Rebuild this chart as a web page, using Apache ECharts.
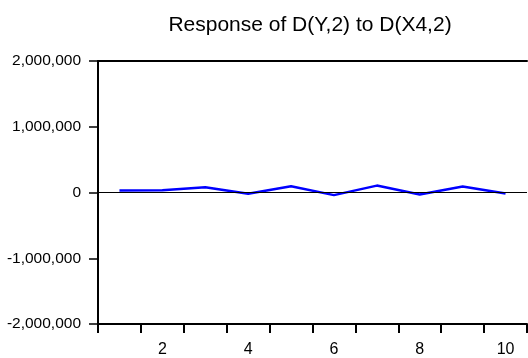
<!DOCTYPE html>
<html>
<head>
<meta charset="utf-8">
<script src="https://cdn.jsdelivr.net/npm/echarts@6/dist/echarts.min.js"></script>
<style>
  html, body { margin: 0; padding: 0; background: #fff; }
  #chart { width: 528px; height: 358px; }
</style>
</head>
<body>
<div id="chart"></div>
<script>
// impulse response, periods 1..10
var periods = ['1', '2', '3', '4', '5', '6', '7', '8', '9', '10'];
var response = [30000, 35000, 80000, -20000, 95000, -40000, 105000, -30000, 90000, -15000];
var yTicks = [-2000000, 2000000, 1000000]; // min, max, step

var chart = echarts.init(document.getElementById('chart'));
var font = 'Liberation Sans, Arial, sans-serif';

chart.setOption({
  animation: false,
  backgroundColor: '#fff',
  title: {
    text: 'Response of D(Y,2) to D(X4,2)',
    left: 305,
    top: 10,
    textAlign: 'center',
    textStyle: { fontFamily: font, fontSize: 21, fontWeight: 'normal', color: '#000' }
  },
  grid: { left: 98, right: 1, top: 61, bottom: 33 },
  xAxis: [{
    type: 'category',
    data: periods,
    boundaryGap: true,
    position: 'bottom',
    axisLine: { onZero: false, lineStyle: { color: '#000', width: 2 } },
    axisTick: { show: true, interval: 0, length: 9, inside: false, lineStyle: { color: '#000', width: 2 } },
    axisLabel: {
      interval: function (i) { return i % 2 === 1; },
      color: '#000', fontFamily: font, fontSize: 16, margin: 18
    },
    splitLine: { show: false }
  }, {
    type: 'category',
    data: periods,
    position: 'top',
    axisLine: { onZero: false, lineStyle: { color: '#000', width: 2 } },
    axisTick: { show: false },
    axisLabel: { show: false }
  }],
  yAxis: {
    type: 'value',
    min: yTicks[0],
    max: yTicks[1],
    interval: yTicks[2],
    axisLine: { show: true, onZero: false, lineStyle: { color: '#000', width: 2 } },
    axisTick: { show: true, length: 9, lineStyle: { color: '#000', width: 1.5 } },
    axisLabel: {
      color: '#000', fontFamily: font, fontSize: 15.5, margin: 17,
      formatter: function (v) { return v.toLocaleString('en-US'); }
    },
    splitLine: { show: false }
  },
  series: [{
    type: 'line',
    data: response,
    symbol: 'none',
    lineStyle: { color: '#0000ff', width: 2.5 },
    markLine: {
      silent: true,
      symbol: 'none',
      label: { show: false },
      lineStyle: { color: '#000', width: 1, type: 'solid' },
      data: [{ yAxis: 0 }]
    },
    z: 3
  }]
});
</script>
</body>
</html>
